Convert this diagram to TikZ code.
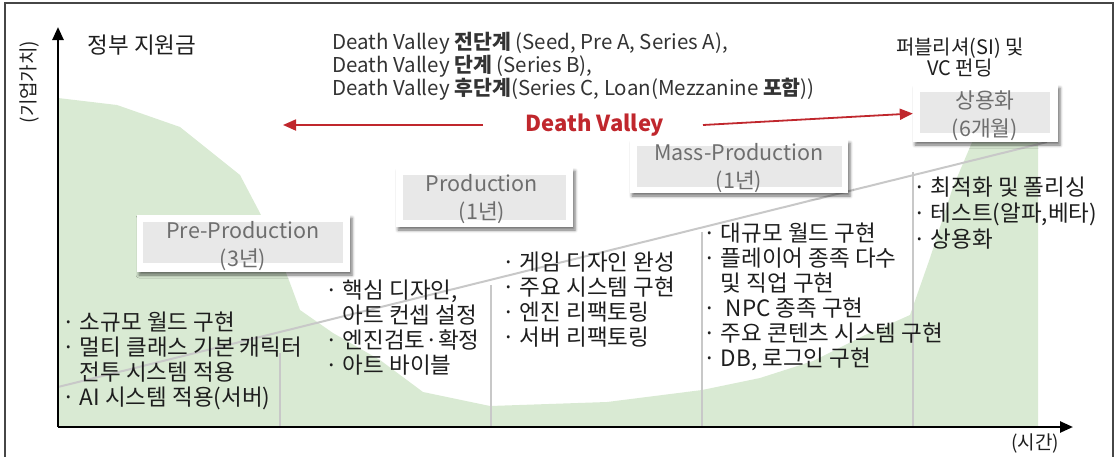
\documentclass[tikz,border=0pt]{standalone}
\usepackage{fontspec}
\setmainfont{Noto Sans CJK KR}
\usetikzlibrary{arrows.meta,shadows.blur}
\definecolor{vgreen}{RGB}{217,234,211}
\definecolor{vred}{RGB}{192,39,45}
\definecolor{boxgray}{RGB}{232,232,232}
\definecolor{boxtext}{RGB}{110,110,110}
\definecolor{gline}{RGB}{200,200,200}
\definecolor{txt}{RGB}{30,30,30}
\definecolor{framec}{RGB}{70,70,70}
\begin{document}
\begin{tikzpicture}[x=1pt,y=-1pt,
  phase/.style={fill=white, draw=none, inner sep=0pt,
    blur shadow={shadow xshift=2pt, shadow yshift=-3pt, shadow blur radius=3pt, shadow opacity=55}},
  phasetxt/.style={inner sep=0pt, align=center, text=boxtext, font=\fontsize{21.5}{28}\selectfont},
  listtxt/.style={anchor=base west, align=left, inner sep=0pt, text=txt, font=\fontsize{22.5}{25}\selectfont},
  plain/.style={inner sep=0pt, text=txt},
  axis/.style={line width=2.5pt, -{Triangle[length=13pt,width=11pt]}},
  grid/.style={gline, line width=2pt},
  red arrow/.style={vred, line width=1.8pt, -{Triangle[length=13pt,width=11pt]}}
]
\useasboundingbox (0,0) rectangle (1117,456);
% frame
\draw[framec, line width=1.5pt] (5,3) rectangle (1113,475);

% green area
\fill[vgreen] (58,98) -- (117,105) -- (180,127) -- (240,175) -- (260,213) -- (275,245)
  -- (290,283) -- (300,310) -- (333,333) -- (380,360) -- (423,392) -- (490,406)
  -- (607,402) -- (702,390) -- (760,378) -- (813,361) -- (863,336) -- (910,315)
  -- (930,258) -- (953,187) -- (973,140) -- (985,100) -- (1038,100) -- (1038,427)
  -- (58,427) -- cycle;

% guide lines
\coordinate (dA) at (58,387);
\coordinate (dB) at (1047,142);
\draw[grid] (dA) -- (dB);
\coordinate (v1t) at (280,353); \coordinate (v1b) at (280,427);
\coordinate (v2t) at (491,285); \coordinate (v2b) at (491,427);
\coordinate (v3t) at (702,232); \coordinate (v3b) at (702,427);
\coordinate (v4t) at (913,172); \coordinate (v4b) at (913,427);
\draw[grid] (v1t) -- (v1b);
\draw[grid] (v2t) -- (v2b);
\draw[grid] (v3t) -- (v3b);
\draw[grid] (v4t) -- (v4b);

% axes
\coordinate (O) at (58,427);
\coordinate (Ytop) at (58,27);
\coordinate (Xend) at (1073,427);
\draw[axis] (O) -- (Ytop);
\draw[axis] (O) -- (Xend);
\node[plain, rotate=90, font=\fontsize{19}{22}\selectfont] (ylab) at (30,82) {(기업가치)};
\node[plain, font=\fontsize{19}{22}\selectfont] (xlab) at (1035,443) {(시간)};

% headers
\node[plain, anchor=base, font=\fontsize{22.5}{24}\selectfont] (gov) at (142,53.5) {정부 지원금};
\node[plain, anchor=base west, align=left, text=black!80, font=\fontsize{20.5}{23}\selectfont] (hdr) at (332,95)
  {Death Valley \textbf{전단계} (Seed, Pre A, Series A),\\
   Death Valley \textbf{단계} (Series B),\\
   Death Valley \textbf{후단계}(Series C, Loan(Mezzanine \textbf{포함}))};
\node[plain, anchor=base, align=center, font=\fontsize{20}{21}\selectfont] (pub) at (960,75.5)
  {퍼블리셔(SI) 및\\VC 펀딩};

% phase boxes
\node[phase, minimum width=213pt, minimum height=57pt] (pre) at (243.5,243.5) {};
\node[phase, minimum width=177pt, minimum height=59pt] (prod) at (484.5,197.5) {};
\node[phase, minimum width=218pt, minimum height=53pt] (mass) at (739,166.5) {};
\node[phase, minimum width=145pt, minimum height=57pt] (com) at (985.5,113.5) {};
\fill[boxgray] ([shift={(6,7)}]pre.north west) rectangle ([shift={(-7,-9)}]pre.south east);
\fill[boxgray] ([shift={(7,7)}]prod.north west) rectangle ([shift={(-7,-7)}]prod.south east);
\fill[boxgray] ([shift={(7,6)}]mass.north west) rectangle ([shift={(-6,-6)}]mass.south east);
\fill[boxgray] ([shift={(7,7)}]com.north west) rectangle ([shift={(-8,-9)}]com.south east);
\node[phasetxt] (preT) at (243,246) {Pre-Production\\(3년)};
\node[phasetxt] (prodT) at (482,199) {Production\\(1년)};
\node[phasetxt] (massT) at (739,168.5) {Mass-Production\\(1년)};
\node[phasetxt] (comT) at (985,116) {상용화\\(6개월)};

% death valley arrows
\node[plain, text=vred, font=\fontsize{22}{24}\selectfont\bfseries] (dv) at (595,125) {Death Valley};
\coordinate (dvL) at (283,125);
\coordinate (dvLs) at (483,125);
\coordinate (dvRs) at (703,125);
\draw[red arrow] (dvLs) -- (dvL);
\draw[red arrow] (dvRs) -- (com.west);

% lists
\node[listtxt] (l1) at (62,405.5)
  {· 소규모 월드 구현\\
   · 멀티 클래스 기본 캐릭터\\
   \phantom{· }전투 시스템 적용\\
   · AI 시스템 적용(서버)};
\node[listtxt] (l2) at (325,373.5)
  {· 핵심 디자인,\\
   \phantom{· }아트 컨셉 설정\\
   · 엔진검토·확정\\
   · 아트 바이블};
\node[listtxt] (l3) at (502,345.5)
  {· 게임 디자인 완성\\
   · 주요 시스템 구현\\
   · 엔진 리팩토링\\
   · 서버 리팩토링};
\node[listtxt] (l4) at (703,366.5)
  {· 대규모 월드 구현\\
   · 플레이어 종족 다수\\
   \phantom{· }및 직업 구현\\
   · \ NPC 종족 구현\\
   · 주요 콘텐츠 시스템 구현\\
   · DB, 로그인 구현};
\node[listtxt, font=\fontsize{22.5}{26}\selectfont] (l5) at (913,247.5)
  {· 최적화 및 폴리싱\\
   · 테스트(알파,베타)\\
   · 상용화};
\end{tikzpicture}
\end{document}
